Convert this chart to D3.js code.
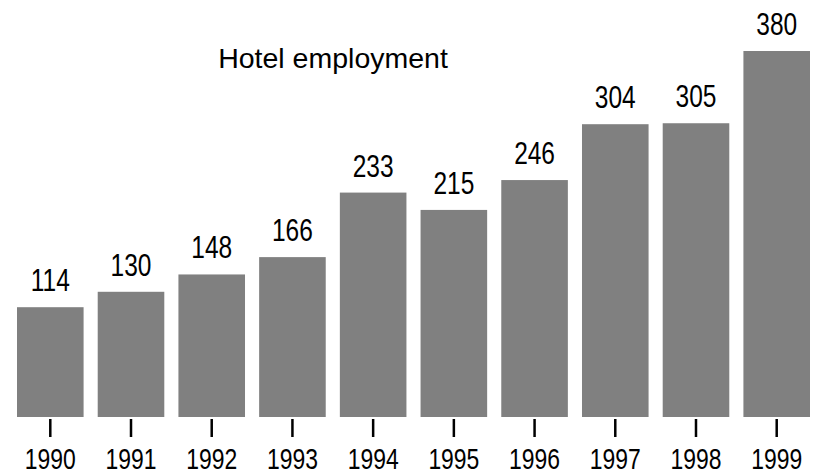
<!DOCTYPE html>
<html>
<head>
<meta charset="utf-8">
<script src="https://cdn.jsdelivr.net/npm/d3@7"></script>
<style>
  html, body { margin: 0; padding: 0; background: #fff; }
  svg { display: block; }
</style>
</head>
<body>
<svg id="chart" width="814" height="476"></svg>
<script>
// Hotel employment by year
const years = ["1990", "1991", "1992", "1993", "1994", "1995", "1996", "1997", "1998", "1999"];
const employment = [114, 130, 148, 166, 233, 215, 246, 304, 305, 380];
const title = "Hotel employment";

const svg = d3.select("#chart");
const baseY = 417;
const font = "'Liberation Sans', Arial, sans-serif";
const squeeze = 0.79; // condensed look for the numeric labels

const x = d3.scaleBand()
  .domain(years)
  .range([17, 810])
  .paddingInner(0.175)
  .paddingOuter(0);

const y = d3.scaleLinear()
  .domain([0, 380])
  .range([baseY, 51]);

const data = years.map((yr, i) => ({ year: yr, value: employment[i] }));

// Bars
svg.append("g")
  .selectAll("rect")
  .data(data)
  .join("rect")
  .attr("x", d => x(d.year))
  .attr("y", d => y(d.value))
  .attr("width", x.bandwidth())
  .attr("height", d => baseY - y(d.value))
  .attr("fill", "#808080");

// Value labels above bars
svg.append("g")
  .selectAll("text")
  .data(data)
  .join("text")
  .attr("transform", d => `translate(${x(d.year) + x.bandwidth() / 2},${y(d.value) - 16}) scale(${squeeze},1)`)
  .attr("text-anchor", "middle")
  .attr("font-family", font)
  .attr("font-size", 31)
  .attr("fill", "#000")
  .text(d => d.value);

// Category axis: short ticks, no domain line
const axis = d3.axisBottom(x).tickSize(18).tickPadding(14);
const gAxis = svg.append("g")
  .attr("transform", `translate(0,${baseY + 2})`)
  .call(axis);
gAxis.select(".domain").remove();
gAxis.selectAll(".tick line").attr("stroke", "#000").attr("stroke-width", 2.5);
gAxis.selectAll(".tick text")
  .attr("font-family", font)
  .attr("font-size", 29)
  .attr("fill", "#000")
  .attr("dy", null)
  .attr("y", 0)
  .attr("transform", `translate(0,50) scale(${squeeze},1)`);

// Title
svg.append("text")
  .attr("x", 333)
  .attr("y", 68)
  .attr("text-anchor", "middle")
  .attr("font-family", font)
  .attr("font-size", 28.5)
  .attr("fill", "#000")
  .text(title);
</script>
</body>
</html>
